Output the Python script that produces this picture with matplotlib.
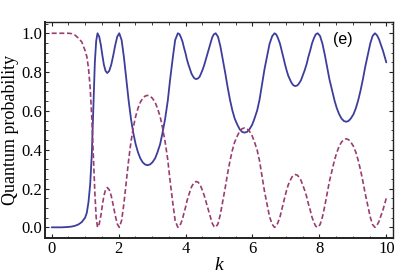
import matplotlib
matplotlib.use('Agg')
import matplotlib.pyplot as plt
from matplotlib.ticker import MultipleLocator

# values
k = [0, 0.3, 0.5, 0.6, 0.7, 0.8, 0.9, 1.0, 1.05, 1.1, 1.15, 1.2, 1.25, 1.29, 1.33,
     1.37, 1.42, 1.47, 1.515, 1.56, 1.61, 1.66,
     1.72, 1.78, 1.84, 1.90, 1.96, 2.02,
     2.09, 2.16, 2.23, 2.30, 2.37, 2.44, 2.51, 2.58, 2.65, 2.72, 2.79, 2.86,
     2.94, 3.01, 3.09, 3.16, 3.24, 3.31, 3.39, 3.47, 3.54, 3.62, 3.69, 3.77,
     3.82, 3.86, 3.91, 3.95, 4.00, 4.04, 4.09, 4.14, 4.18, 4.23, 4.27, 4.32,
     4.37, 4.42, 4.46, 4.51, 4.56, 4.61, 4.66, 4.71, 4.76, 4.80, 4.85, 4.90,
     4.97, 5.04, 5.11, 5.19, 5.26, 5.33, 5.40, 5.47, 5.55, 5.62, 5.69, 5.76,
     5.84, 5.91, 5.99, 6.06, 6.14, 6.21, 6.29, 6.36, 6.44, 6.51, 6.59, 6.66,
     6.71, 6.76, 6.82, 6.87, 6.92, 6.97, 7.02, 7.07, 7.13, 7.18, 7.23, 7.28,
     7.34, 7.39, 7.45, 7.50, 7.56, 7.62, 7.67, 7.73, 7.78, 7.84, 7.89, 7.95,
     8.02, 8.09, 8.16, 8.23, 8.30, 8.38, 8.45, 8.52, 8.59, 8.66, 8.73, 8.80,
     8.87, 8.94, 9.02, 9.09, 9.16, 9.23, 9.30, 9.37, 9.45, 9.52, 9.59, 9.66,
     9.72, 9.78, 9.84, 9.90, 9.95, 10.0]

p_solid = [0, 0, 0.002, 0.004, 0.008, 0.015, 0.027, 0.05, 0.075, 0.13, 0.22, 0.38, 0.64, 0.85, 0.96,
           1.0, 0.983, 0.939, 0.886, 0.838, 0.806, 0.795,
           0.806, 0.838, 0.886, 0.939, 0.983, 1.0,
           0.965, 0.875, 0.763, 0.653, 0.559, 0.485, 0.428, 0.386, 0.355, 0.335, 0.324, 0.32,
           0.324, 0.335, 0.355, 0.386, 0.428, 0.485, 0.559, 0.653, 0.763, 0.875, 0.965, 1.0,
           0.995, 0.980, 0.957, 0.928, 0.897, 0.866, 0.837, 0.812, 0.791, 0.776, 0.767, 0.764,
           0.767, 0.776, 0.791, 0.812, 0.837, 0.866, 0.897, 0.928, 0.957, 0.980, 0.995, 1.0,
           0.982, 0.934, 0.867, 0.792, 0.720, 0.656, 0.602, 0.560, 0.528, 0.505, 0.492, 0.488,
           0.492, 0.505, 0.528, 0.560, 0.602, 0.656, 0.740, 0.815, 0.885, 0.945, 0.985, 1.0,
           0.994, 0.976, 0.948, 0.914, 0.878, 0.842, 0.809, 0.781, 0.758, 0.741, 0.731, 0.728,
           0.731, 0.741, 0.758, 0.781, 0.809, 0.842, 0.878, 0.914, 0.948, 0.976, 0.994, 1.0,
           0.986, 0.947, 0.891, 0.827, 0.763, 0.705, 0.655, 0.614, 0.583, 0.561, 0.548, 0.544,
           0.548, 0.561, 0.583, 0.614, 0.655, 0.705, 0.763, 0.827, 0.891, 0.947, 0.986, 1.0,
           0.99, 0.97, 0.94, 0.91, 0.88, 0.85]

p_dashed = [1, 1, 1, 0.998, 0.99, 0.975, 0.955, 0.91, 0.88, 0.82, 0.72, 0.56, 0.35, 0.18, 0.05,
            0.0, 0.017, 0.061, 0.114, 0.162, 0.194, 0.205,
            0.194, 0.162, 0.114, 0.061, 0.017, 0.0,
            0.035, 0.125, 0.237, 0.347, 0.441, 0.515, 0.572, 0.614, 0.645, 0.665, 0.676, 0.68,
            0.676, 0.665, 0.645, 0.614, 0.572, 0.515, 0.441, 0.347, 0.237, 0.125, 0.035, 0.0,
            0.005, 0.020, 0.043, 0.072, 0.103, 0.134, 0.163, 0.188, 0.209, 0.224, 0.233, 0.236,
            0.233, 0.224, 0.209, 0.188, 0.163, 0.134, 0.103, 0.072, 0.043, 0.020, 0.005, 0.0,
            0.018, 0.066, 0.133, 0.208, 0.280, 0.344, 0.398, 0.440, 0.472, 0.495, 0.508, 0.512,
            0.508, 0.495, 0.472, 0.440, 0.398, 0.344, 0.260, 0.185, 0.115, 0.055, 0.015, 0.0,
            0.006, 0.024, 0.052, 0.086, 0.122, 0.158, 0.191, 0.219, 0.242, 0.259, 0.269, 0.272,
            0.269, 0.259, 0.242, 0.219, 0.191, 0.158, 0.122, 0.086, 0.052, 0.024, 0.006, 0.0,
            0.014, 0.053, 0.109, 0.173, 0.237, 0.295, 0.345, 0.386, 0.417, 0.439, 0.452, 0.456,
            0.452, 0.439, 0.417, 0.386, 0.345, 0.295, 0.237, 0.173, 0.109, 0.053, 0.014, 0.0,
            0.01, 0.03, 0.06, 0.09, 0.12, 0.15]

serif = ['Liberation Serif', 'DejaVu Serif']

fig = plt.figure(figsize=(4.15, 2.8), dpi=100)
ax = fig.add_axes([0.1084, 0.15, 0.8386, 0.7714])

ax.plot(k, p_solid, color='#3d3d9c', lw=1.3, solid_capstyle='round')
ax.plot(k, p_dashed, color='#993d71', lw=1.2, dashes=(3.0, 1.6))

ax.set_xlim(-0.2, 10.2)
ax.set_ylim(-0.055, 1.058)
ax.xaxis.set_major_locator(MultipleLocator(2))
ax.xaxis.set_minor_locator(MultipleLocator(0.5))
ax.yaxis.set_major_locator(MultipleLocator(0.2))
ax.yaxis.set_minor_locator(MultipleLocator(0.05))
ax.yaxis.set_major_formatter(plt.FuncFormatter(lambda v, _: f'{v:.1f}'))

ax.tick_params(which='both', direction='in', top=True, right=True, colors='#222222',
               labelcolor='black')
ax.tick_params(which='major', length=3, width=0.8, labelsize=12, pad=2)
ax.tick_params(which='minor', length=1.8, width=0.6)
for lab in ax.get_xticklabels() + ax.get_yticklabels():
    lab.set_family(serif)

for side in ax.spines:
    ax.spines[side].set_linewidth(1.0)
    ax.spines[side].set_color('#222222')
ax.spines['left'].set_linewidth(1.4)
ax.spines['bottom'].set_linewidth(1.4)

ax.set_ylabel('Quantum probability', family=serif, fontsize=13, labelpad=2)
ax.set_xlabel('k', family=serif, style='italic', fontsize=14, labelpad=0)

ax.text(0.855, 0.921, '(e)', transform=ax.transAxes, ha='center', va='center',
        family=['Liberation Sans', 'DejaVu Sans'], fontsize=11.5)

fig.savefig('out.png', dpi=100)
